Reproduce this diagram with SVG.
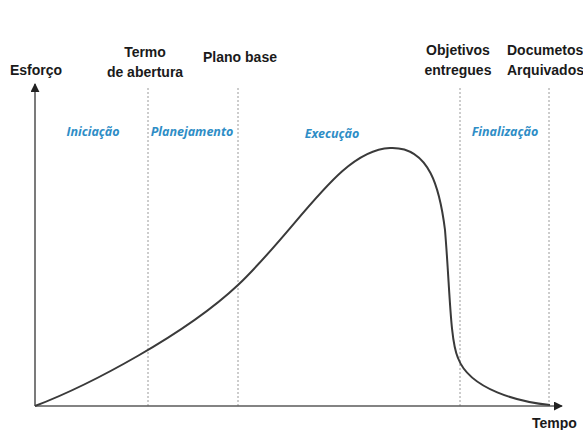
<svg xmlns="http://www.w3.org/2000/svg" width="583" height="430" viewBox="0 0 583 430">
<style>
.lbl{font-family:"Liberation Sans",Arial,sans-serif;font-weight:bold;font-size:14px;fill:#1a1a1a}
.ph{font-family:"Open Sans","Liberation Sans",sans-serif;font-style:italic;font-weight:bold;font-size:12.5px;fill:#2e8dc6}
.dot{stroke:#9a9a9a;stroke-width:1;stroke-dasharray:2 2;fill:none}
.ax{stroke:#5a5a5a;stroke-width:1.6;fill:none}
</style>
<defs>
<marker id="ah" viewBox="0 0 10 10" refX="9" refY="5" markerWidth="9" markerHeight="9" markerUnits="userSpaceOnUse" orient="auto">
<path d="M0,0 L10,5 L0,10 z" fill="#222"/>
</marker>
</defs>
<rect width="583" height="430" fill="#fff"/>
<g id="gridlines">
<line class="dot" x1="148" y1="88" x2="148" y2="406"/>
<line class="dot" x1="238" y1="88" x2="238" y2="406"/>
<line class="dot" x1="460" y1="88" x2="460" y2="406"/>
<line class="dot" x1="549" y1="88" x2="549" y2="406"/>
</g>
<g id="connectors">
<line class="ax" x1="35" y1="406" x2="35" y2="84" marker-end="url(#ah)"/>
<line class="ax" x1="35" y1="406" x2="562" y2="406" marker-end="url(#ah)"/>
<path d="M35,406 C90,385 186,334 238,285 C300,226 340,150 390,148 C430,146 440,190 445,230 C450,290 450,340 458,358 C470,390 520,402 550,405" fill="none" stroke="#3a3a3a" stroke-width="2"/>
</g>
<g id="axis-labels">
<text class="lbl" x="10" y="75">Esforço</text>
<text class="lbl" x="532" y="428">Tempo</text>
</g>
<g id="milestones">
<text class="lbl" x="145" y="57" text-anchor="middle">Termo</text>
<text class="lbl" x="145" y="77" text-anchor="middle">de abertura</text>
<text class="lbl" x="240" y="62" text-anchor="middle">Plano base</text>
<text class="lbl" x="458" y="55" text-anchor="middle">Objetivos</text>
<text class="lbl" x="458" y="75" text-anchor="middle">entregues</text>
<text class="lbl" x="507" y="55">Documetos</text>
<text class="lbl" x="507" y="75">Arquivados</text>
</g>
<g id="phases">
<text class="ph" x="93" y="136" text-anchor="middle">Iniciação</text>
<text class="ph" x="192" y="136" text-anchor="middle">Planejamento</text>
<text class="ph" x="332" y="138" text-anchor="middle">Execução</text>
<text class="ph" x="505" y="136" text-anchor="middle">Finalização</text>
</g>
</svg>
